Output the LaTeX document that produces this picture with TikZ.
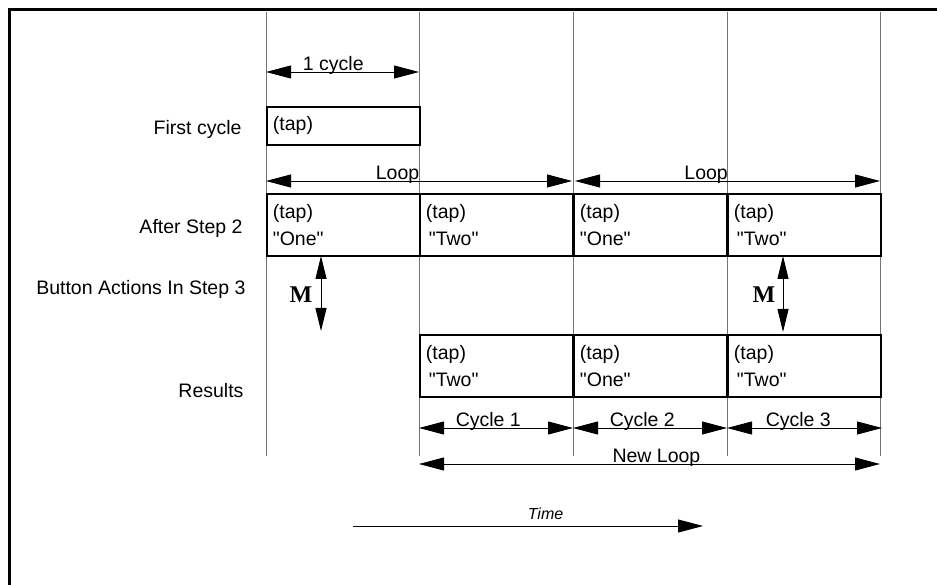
\documentclass[tikz,border=0pt]{standalone}
\usepackage{fontspec}
\setmainfont{Liberation Sans}
\newfontfamily\mfont{Liberation Serif}
\usetikzlibrary{arrows.meta, positioning}
\newcommand{\qt}[1]{\textquotedbl#1\textquotedbl}

\begin{document}
\begin{tikzpicture}[x=1pt, y=-1pt,
  grid/.style={draw=black!55, line width=0.9pt},
  cell/.style={draw, line width=1.8pt, anchor=north west, text width=141pt, inner xsep=6pt, align=left, font=\fontsize{19.5}{27}\selectfont},
  rowlab/.style={anchor=east, font=\fontsize{19.5}{22}\selectfont},
  dim/.style={draw, line width=0.9pt, {Triangle[length=25pt,width=13pt]}-{Triangle[length=25pt,width=13pt]}},
  mdim/.style={draw, line width=0.9pt, {Triangle[length=23pt,width=11pt]}-{Triangle[length=23pt,width=11pt]}},
  lab/.style={above, inner sep=0pt, yshift=-3pt, font=\fontsize{19.5}{22}\selectfont},
  mlab/.style={font=\mfont\bfseries\fontsize{24}{24}\selectfont}
]
\useasboundingbox (0,0) rectangle (937,585);
\draw[line width=3pt] (9,585) -- (9,10) -- (937,10);

\foreach \x/\n in {266/0, 419/1, 573/2, 727/3, 880/4} {
  \coordinate (t\n) at (\x,12);
  \coordinate (b\n) at (\x,456);
  \draw[grid] (t\n) -- (b\n);
}

\node[rowlab] (lfirst)   at (245,129) {First cycle};
\node[rowlab] (lstep2)   at (246,228) {After Step 2};
\node[rowlab] (lbutton)  at (249,289) {Button Actions In Step 3};
\node[rowlab] (lresults) at (247,391) {Results};

\node[cell, minimum height=38pt] (first) at (266,106) {(tap)};

\node[cell, minimum height=62pt] (s2a) at (266,193) {(tap)\\\qt{One}};
\node[cell, minimum height=62pt] (s2b) at (419,193) {(tap)\\\hspace{3pt}\qt{Two}};
\node[cell, minimum height=62pt] (s2c) at (573,193) {(tap)\\\qt{One}};
\node[cell, minimum height=62pt] (s2d) at (727,193) {(tap)\\\hspace{3pt}\qt{Two}};

\node[cell, minimum height=62pt] (r1) at (419,334) {(tap)\\\hspace{3pt}\qt{Two}};
\node[cell, minimum height=62pt] (r2) at (573,334) {(tap)\\\qt{One}};
\node[cell, minimum height=62pt] (r3) at (727,334) {(tap)\\\hspace{3pt}\qt{Two}};

\coordinate (cy0) at (266,72);
\coordinate (cy1) at (419,72);
\draw[dim] (cy0) -- node[lab, pos=0.44]{1 cycle} (cy1);

\coordinate (lp0) at (266,181);
\coordinate (lp1) at (572,181);
\coordinate (lp2) at (575,181);
\coordinate (lp3) at (880,181);
\draw[dim] (lp0) -- node[lab, pos=0.43]{Loop} (lp1);
\draw[dim] (lp2) -- node[lab, pos=0.43]{Loop} (lp3);

\coordinate (ma0) at (321,256);
\coordinate (ma1) at (321,331);
\coordinate (mb0) at (783,256);
\coordinate (mb1) at (783,332);
\draw[mdim] (ma0) -- (ma1);
\draw[mdim] (mb0) -- (mb1);
\node[mlab] (m1) at (301,295) {M};
\node[mlab] (m2) at (764,295) {M};

\coordinate (cc0) at (419,428);
\coordinate (cc1) at (573,428);
\coordinate (cc2) at (727,428);
\coordinate (cc3) at (882,428);
\draw[dim] (cc0) -- node[lab, pos=0.45]{Cycle 1} (cc1);
\draw[dim] (cc1) -- node[lab, pos=0.45]{Cycle 2} (cc2);
\draw[dim] (cc2) -- node[lab, pos=0.46]{Cycle 3} (cc3);

\coordinate (nl0) at (419,464);
\coordinate (nl1) at (880,464);
\draw[dim] (nl0) -- node[lab, pos=0.515]{New Loop} (nl1);

\coordinate (tm0) at (353,526);
\coordinate (tm1) at (703,526);
\draw[draw, line width=0.9pt, -{Triangle[length=25pt,width=13pt]}] (tm0) -- node[lab, pos=0.55, yshift=9pt, font=\itshape\fontsize{16}{18}\selectfont]{Time} (tm1);
\end{tikzpicture}
\end{document}
